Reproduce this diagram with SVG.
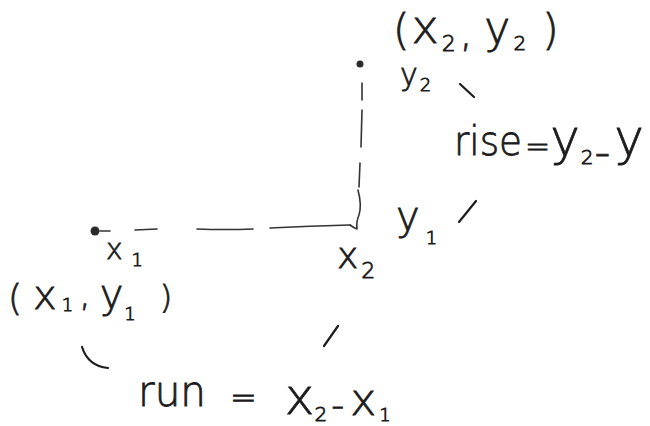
<svg xmlns="http://www.w3.org/2000/svg" width="650" height="426" viewBox="0 0 650 426">
<style>
text{font-family:"DejaVu Sans","Liberation Sans",sans-serif;font-weight:200;fill:#1c1c1c;stroke:#1c1c1c;stroke-width:0.8}
.stroke{fill:none;stroke:#1c1c1c;stroke-width:2.2;stroke-linecap:round;stroke-linejoin:round}
.dash{fill:none;stroke:#333333;stroke-width:1.6;stroke-linecap:round;stroke-linejoin:round}
</style>
<rect width="650" height="426" fill="#ffffff"/>
<g id="connectors">
  <path class="dash" d="M100 231 L110 231 M135 230 L157 229 M197 229 Q225 230 253 229 M270 228 Q310 226 350 225"/>
  <path class="dash" d="M362 83 L362 100 M362 110 L361 147 M360 163 L359 187 M358 190 Q362 205 359 215 Q356 222 357 229 M350 225 Q354 228 357 229"/>
</g>
<g id="point1">
  <ellipse cx="95" cy="231" rx="4.5" ry="4.5" fill="#2a2a2a"/>
  <text x="106" y="259" font-size="28"><tspan>x</tspan><tspan font-size="18" dx="9" dy="7">1</tspan></text>
  <text x="8" y="310" font-size="40"><tspan font-size="36">(</tspan><tspan dx="11" dy="-1">x</tspan><tspan font-size="18" dx="5" dy="2">1</tspan><tspan font-size="36" dx="6" dy="-5">,</tspan><tspan dx="9" dy="2">y</tspan><tspan font-size="18" dx="1" dy="12">1</tspan><tspan font-size="32" dx="24" dy="-12">)</tspan></text>
</g>
<g id="point2">
  <ellipse cx="360" cy="64" rx="3.5" ry="3.5" fill="#2a2a2a"/>
  <text x="393" y="45" font-size="42"><tspan>(</tspan><tspan font-size="46" dx="2" dy="-2">x</tspan><tspan font-size="22" dx="3" dy="8">2</tspan><tspan font-size="40" dx="4" dy="-5">,</tspan><tspan font-size="44" dx="12" dy="-3">y</tspan><tspan font-size="20" dx="3" dy="7">2</tspan><tspan dx="16" dy="-5">)</tspan></text>
  <text x="400" y="85" font-size="30"><tspan>y</tspan><tspan font-size="18" dx="2" dy="6">2</tspan></text>
</g>
<g id="corner">
  <text x="337" y="268" font-size="36"><tspan>x</tspan><tspan font-size="22" dx="3" dy="10">2</tspan></text>
  <text x="396" y="230" font-size="40"><tspan>y</tspan><tspan font-size="18" dx="6" dy="14">1</tspan></text>
</g>
<g id="rise">
  <path class="stroke" d="M460 84 L474 97"/>
  <path class="stroke" d="M476 201 L459 222"/>
  <text x="454" y="155" font-size="40" textLength="68" lengthAdjust="spacingAndGlyphs">rise</text>
  <text x="525" y="157" font-size="30"><tspan>=</tspan><tspan font-size="50" dy="-2">y</tspan><tspan font-size="20" dx="1" dy="9">2</tspan><tspan font-size="44" dx="1" dy="3">-</tspan><tspan font-size="50" dx="4" dy="-12">y</tspan></text>
</g>
<g id="run">
  <path class="stroke" d="M82 347 Q88 366 108 368"/>
  <path class="stroke" d="M338 326 L324 346"/>
  <text x="138" y="406" font-size="42" textLength="68" lengthAdjust="spacingAndGlyphs">run</text>
  <text x="230" y="408" font-size="32"><tspan>=</tspan><tspan font-size="50" dx="28" dy="6">x</tspan><tspan font-size="20" dy="7">2</tspan><tspan font-size="36" dx="4" dy="-4">-</tspan><tspan font-size="44" dx="6" dy="-2">x</tspan><tspan font-size="18" dx="3" dy="6">1</tspan></text>
</g>
</svg>
